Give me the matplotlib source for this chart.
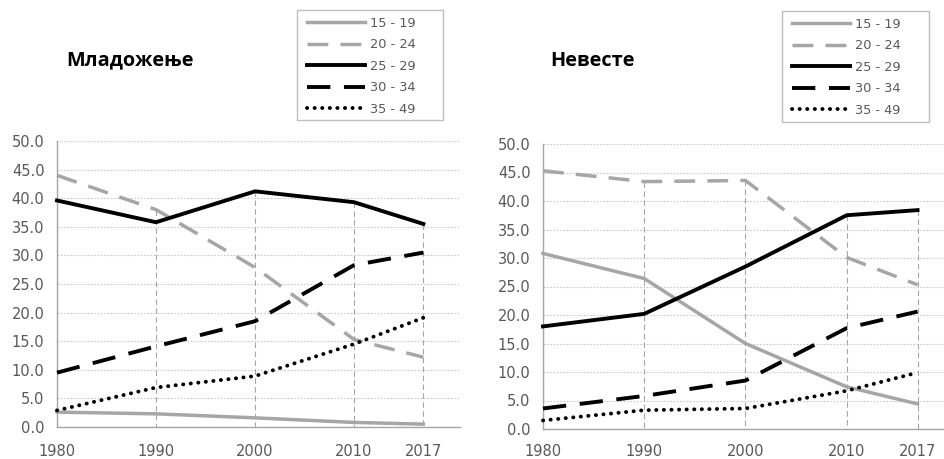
import matplotlib
matplotlib.use("Agg")
import matplotlib.pyplot as plt
from matplotlib.ticker import FormatStrFormatter
from matplotlib.patches import Rectangle

years = [1980, 1990, 2000, 2010, 2017]
series_labels = ["15 - 19", "20 - 24", "25 - 29", "30 - 34", "35 - 49"]

grooms = {
    "15 - 19": [2.6, 2.3, 1.6, 0.8, 0.5],
    "20 - 24": [44.0, 38.0, 27.9, 15.3, 12.2],
    "25 - 29": [39.6, 35.8, 41.2, 39.3, 35.5],
    "30 - 34": [9.5, 14.1, 18.5, 28.3, 30.5],
    "35 - 49": [2.9, 6.9, 8.9, 14.5, 19.1],
}
brides = {
    "15 - 19": [30.8, 26.4, 15.0, 7.4, 4.4],
    "20 - 24": [45.3, 43.4, 43.6, 30.1, 25.3],
    "25 - 29": [18.0, 20.2, 28.5, 37.5, 38.4],
    "30 - 34": [3.6, 5.8, 8.5, 17.7, 20.6],
    "35 - 49": [1.5, 3.3, 3.6, 6.7, 9.9],
}
titles = ["Младожење", "Невесте"]
yticks = [0, 5, 10, 15, 20, 25, 30, 35, 40, 45, 50]

GRAY = "#a6a6a6"
TXT = "#595959"
styles = {
    "15 - 19": dict(color=GRAY, lw=2.5, linestyle="-"),
    "20 - 24": dict(color=GRAY, lw=2.5, linestyle=(0, (6, 3.5))),
    "25 - 29": dict(color="black", lw=2.8, linestyle="-"),
    "30 - 34": dict(color="black", lw=2.8, linestyle=(0, (6, 3.5))),
    "35 - 49": dict(color="black", lw=2.8, linestyle=(0, (0.05, 1.9)),
                    dash_capstyle="round"),
}

fig = plt.figure(figsize=(9.45, 4.59), dpi=100)
fig.patch.set_facecolor("white")

W, H = 945.0, 459.0
axes_px = [(57, 460, 427, 141), (543, 955, 429, 144)]
xpads = [12, 10.5]
legend_box_px = [(297, 10, 443, 120), (782, 11, 929, 122)]
legend_anchor_px = [(303, 13), (788, 14)]
title_px = [(66, 60), (550, 61)]

for i, data in enumerate([grooms, brides]):
    x0, x1, yb, yt = axes_px[i]
    ax = fig.add_axes([x0 / W, 1 - yb / H, (x1 - x0) / W, (yb - yt) / H])
    ax.set_xlim(1980, 2020.7)
    ax.set_ylim(0, 50)
    ax.set_yticks(yticks)
    ax.yaxis.set_major_formatter(FormatStrFormatter("%.1f"))
    ax.set_xticks(years)
    ax.set_xticklabels([str(y) for y in years])
    ax.grid(axis="y", color="#c8c8c8", lw=0.8, linestyle=(0, (1.5, 1.5)))
    ax.set_axisbelow(True)
    for s in ["top", "right"]:
        ax.spines[s].set_visible(False)
    for s in ["left", "bottom"]:
        ax.spines[s].set_color(GRAY)
        ax.spines[s].set_linewidth(1.0)
    ax.tick_params(axis="both", length=0, colors=TXT, labelsize=10.5)
    ax.tick_params(axis="y", pad=9)
    ax.tick_params(axis="x", pad=xpads[i])

    # drop lines
    for j, x in enumerate(years):
        top = max(data[k][j] for k in series_labels)
        ax.plot([x, x], [top, 0], color=GRAY, lw=0.8,
                linestyle=(0, (5, 3)), zorder=1.5)

    handles = []
    for k in series_labels:
        h, = ax.plot(years, data[k], label=k, zorder=3, clip_on=False,
                     **styles[k])
        handles.append(h)

    bx0, by0, bx1, by1 = legend_box_px[i]
    fig.patches.append(Rectangle((bx0 / W, 1 - by1 / H), (bx1 - bx0) / W,
                                 (by1 - by0) / H, transform=fig.transFigure,
                                 facecolor="white", edgecolor="#bfbfbf",
                                 lw=1.0, zorder=5))
    lx, ly = legend_anchor_px[i]
    leg = fig.legend(handles, series_labels, loc="upper left",
                     bbox_to_anchor=(lx / W, 1 - ly / H),
                     frameon=False, fontsize=9.3,
                     handlelength=4.5, labelspacing=0.66, handletextpad=0.35,
                     borderpad=0.3, borderaxespad=0)
    leg.set_zorder(6)
    for t in leg.get_texts():
        t.set_color(TXT)

    tx, ty = title_px[i]
    fig.text(tx / W, 1 - ty / H, titles[i], fontsize=14.3, fontweight="bold",
             family="Open Sans", color="black", va="center", ha="left")

fig.savefig("out.png", dpi=100, facecolor="white")
